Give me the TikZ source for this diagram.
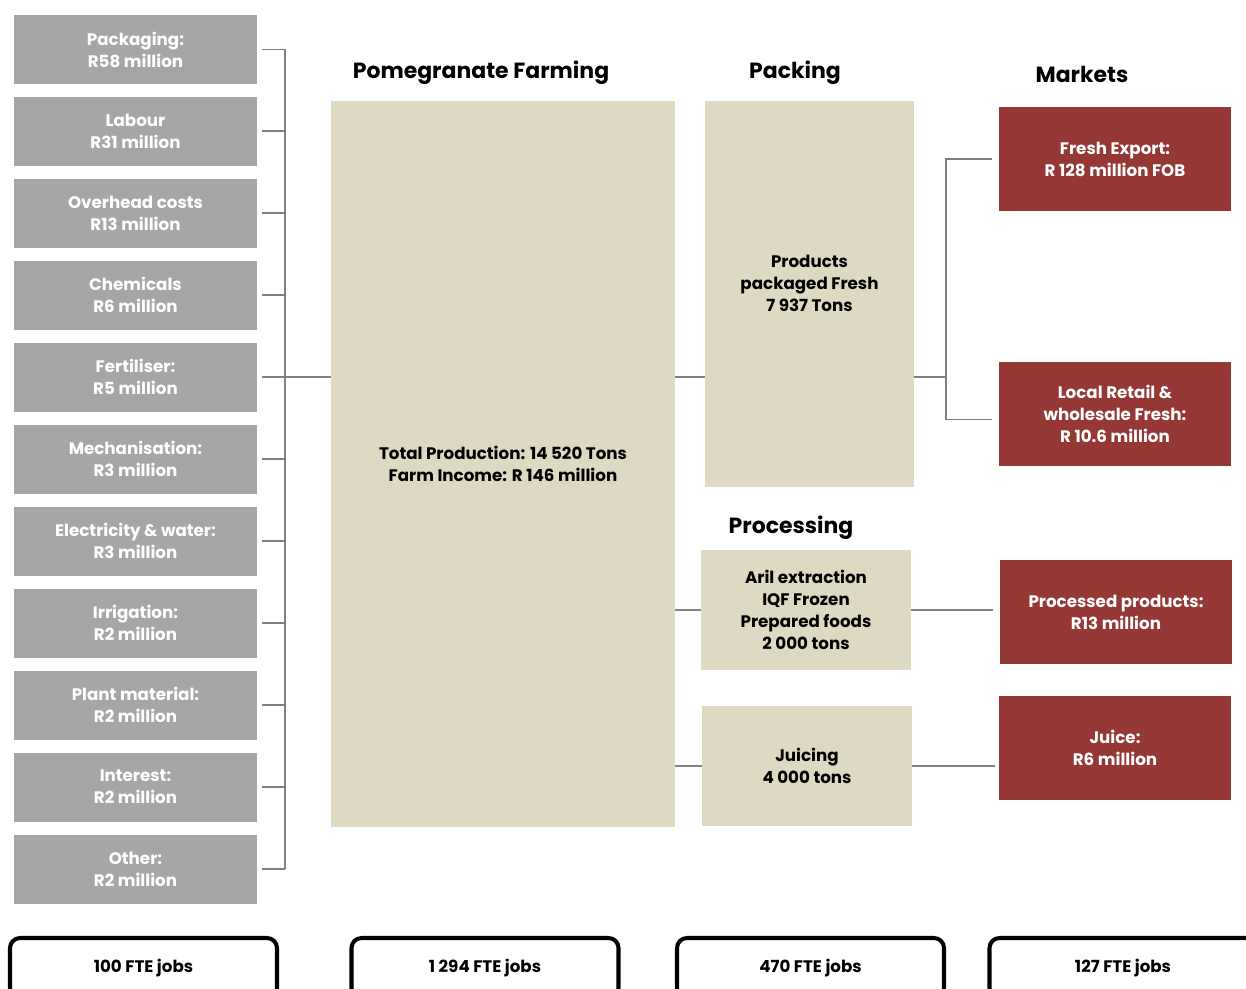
\documentclass[tikz,border=0pt]{standalone}
\usepackage{fontspec}
\setmainfont{Poppins}
\usepackage{xcolor}
\usepackage{tikz}
\usetikzlibrary{positioning}

\definecolor{costgray}{HTML}{A6A6A6}
\definecolor{stagebeige}{HTML}{DDD9C3}
\definecolor{marketred}{HTML}{953735}
\definecolor{linkgray}{HTML}{808080}

\begin{document}
\begin{tikzpicture}[
  cost/.style={rectangle, fill=costgray, text=white, align=center, minimum width=4.86cm, minimum height=1.38cm, font=\bfseries\fontsize{9.5}{12.5}\selectfont},
  stage/.style={rectangle, fill=stagebeige, align=center, font=\bfseries\fontsize{9.5}{12.5}\selectfont},
  market/.style={rectangle, fill=marketred, text=white, align=center, minimum width=4.64cm, minimum height=2.08cm, font=\bfseries\fontsize{9.5}{12.5}\selectfont},
  heading/.style={font=\bfseries\fontsize{12.5}{15}\selectfont},
  jobs/.style={draw, line width=2.3pt, rounded corners=0.2cm, minimum width=5.34cm, minimum height=1.2cm, font=\bfseries\fontsize{9.5}{12}\selectfont},
  link/.style={linkgray, line width=1.1pt}
]
\useasboundingbox (0,0) rectangle (24.92,19.76);
\clip (0,0) rectangle (24.92,19.76);

% Input costs
\node[cost] (cost1) at (2.71,18.77) {Packaging:\\R58 million};
\node[cost, below=0.245cm of cost1] (cost2) {Labour\\R31 million};
\node[cost, below=0.245cm of cost2] (cost3) {Overhead costs\\R13 million};
\node[cost, below=0.245cm of cost3] (cost4) {Chemicals\\R6 million};
\node[cost, below=0.245cm of cost4] (cost5) {Fertiliser:\\R5 million};
\node[cost, below=0.245cm of cost5] (cost6) {Mechanisation:\\R3 million};
\node[cost, below=0.245cm of cost6] (cost7) {Electricity \& water:\\R3 million};
\node[cost, below=0.245cm of cost7] (cost8) {Irrigation:\\R2 million};
\node[cost, below=0.245cm of cost8] (cost9) {Plant material:\\R2 million};
\node[cost, below=0.245cm of cost9] (cost10) {Interest:\\R2 million};
\node[cost, below=0.245cm of cost10] (cost11) {Other:\\R2 million};

% Farming
\node[heading] (hfarm) at (9.62,18.30) {Pomegranate Farming};
\node[stage, minimum width=6.88cm, minimum height=14.52cm] (farm) at (10.06,10.48) {Total Production: 14 520 Tons\\Farm Income: R 146 million};

% Packing
\node[heading] (hpack) at (15.90,18.30) {Packing};
\node[stage, minimum width=4.18cm, minimum height=7.72cm] (pack) at (16.19,13.88) {Products\\packaged Fresh\\7 937 Tons\\[0pt]};

% Processing
\node[heading] (hproc) at (15.82,9.20) {Processing};
\node[stage, minimum width=4.2cm, minimum height=2.4cm] (aril) at (16.12,7.56) {Aril extraction\\IQF Frozen\\Prepared foods\\2 000 tons};
\node[stage, minimum width=4.2cm, minimum height=2.4cm] (juicing) at (16.14,4.44) {Juicing\\4 000 tons};

% Markets
\node[heading] (hmark) at (21.64,18.28) {Markets};
\node[market] (mexp) at (22.30,16.58) {Fresh Export:\\R 128 million FOB};
\node[market] (mloc) at (22.30,11.49) {Local Retail \&\\wholesale Fresh:\\R 10.6 million};
\node[market] (mproc) at (22.32,7.52) {Processed products:\\R13 million};
\node[market] (mjuice) at (22.30,4.80) {Juice:\\R6 million};

% Jobs
\node[jobs] (job1) at (2.87,0.40) {100 FTE jobs};
\node[jobs] (job2) at (9.70,0.40) {1 294 FTE jobs};
\node[jobs] (job3) at (16.21,0.40) {470 FTE jobs};
\node[jobs] (job4) at (22.46,0.40) {127 FTE jobs};

% Cost bracket
\draw[link] ([xshift=0.56cm]cost1.east) -- ([xshift=0.56cm]cost11.east);
\draw[link] ([xshift=0.1cm]cost1.east) -- ++(0.46,0);
\draw[link] ([xshift=0.1cm]cost2.east) -- ++(0.46,0);
\draw[link] ([xshift=0.1cm]cost3.east) -- ++(0.46,0);
\draw[link] ([xshift=0.1cm]cost4.east) -- ++(0.46,0);
\draw[link] ([xshift=0.1cm]cost5.east) -- (cost5.east -| farm.west);
\draw[link] ([xshift=0.1cm]cost6.east) -- ++(0.46,0);
\draw[link] ([xshift=0.1cm]cost7.east) -- ++(0.46,0);
\draw[link] ([xshift=0.1cm]cost8.east) -- ++(0.46,0);
\draw[link] ([xshift=0.1cm]cost9.east) -- ++(0.46,0);
\draw[link] ([xshift=0.1cm]cost10.east) -- ++(0.46,0);
\draw[link] ([xshift=0.1cm]cost11.east) -- ++(0.46,0);

% Farm to packing and processing
\draw[link] (farm.east |- cost5.east) -- (pack.west |- cost5.east);
\draw[link] (farm.east |- aril.west) -- (aril.west);
\draw[link] (farm.east |- juicing.west) -- (juicing.west);

% Packing to markets
\coordinate (split) at ([xshift=0.64cm]pack.east |- cost5.east);
\draw[link] (pack.east |- split) -- (split);
\draw[link] ([xshift=-0.14cm]mexp.west) -| (split) |- ([xshift=-0.14cm,yshift=-0.12cm]mloc.west);

% Processing to markets
\draw[link] (aril.east) -- ([xshift=-0.14cm]mproc.west |- aril.east);
\draw[link] (juicing.east) -- ([xshift=-0.08cm]mjuice.west |- juicing.east);
\end{tikzpicture}
\end{document}
